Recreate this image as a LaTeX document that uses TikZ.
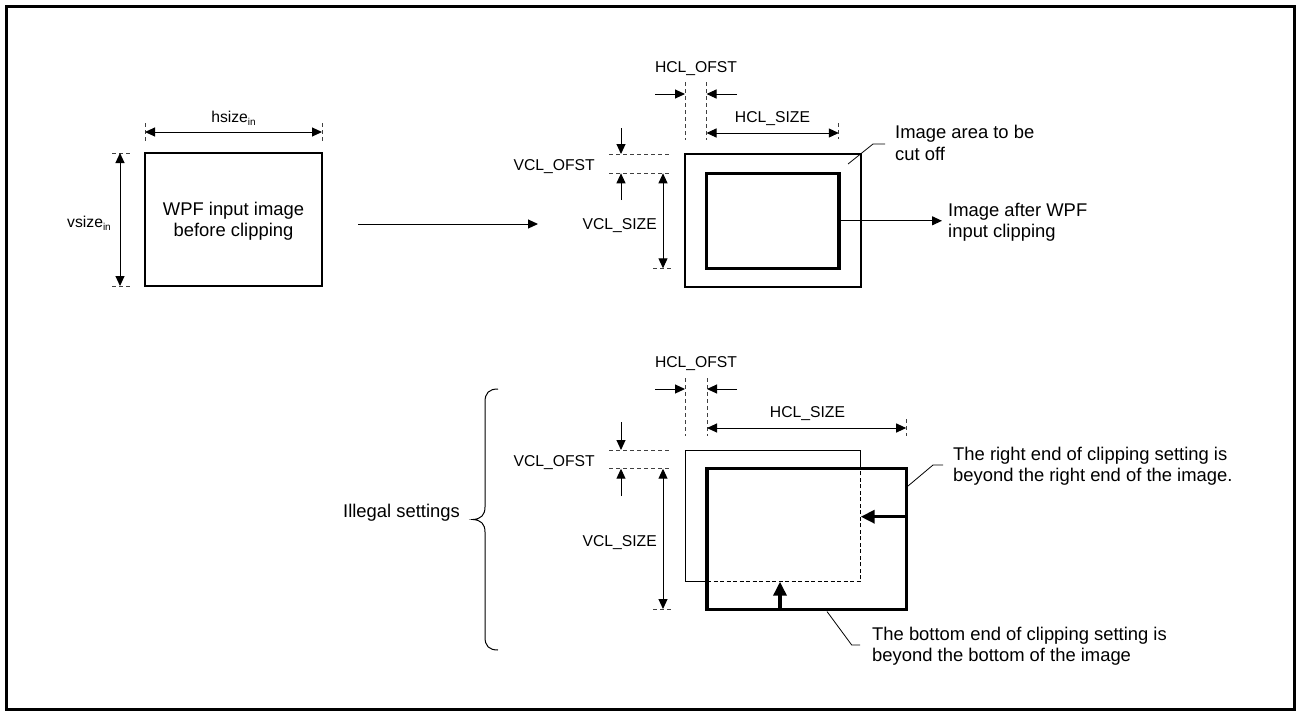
\documentclass[tikz,border=0pt]{standalone}
\usepackage{fontspec}
\setmainfont{Liberation Sans}
\usetikzlibrary{arrows.meta}
\newcommand{\lowsub}[1]{{\fontsize{10}{10}\selectfont\raisebox{-3pt}{#1}}}
\begin{document}
\begin{tikzpicture}[x=1pt,y=-1pt,
  thinln/.style={line width=1pt},
  frame/.style={draw, line width=1.1pt, inner sep=0pt, outer sep=0pt},
  heavy/.style={draw, line width=3.4pt, inner sep=0pt, outer sep=0pt},
  dimarrow/.style={line width=1pt, {Triangle[length=10pt,width=9pt]}-{Triangle[length=10pt,width=9pt]}},
  onearrow/.style={line width=1pt, -{Triangle[length=10pt,width=9pt]}},
  heavyarrow/.style={line width=3.4pt, -{Triangle[length=14pt,width=13pt]}},
  ext/.style={line width=0.9pt, dash pattern=on 4pt off 3pt, black!75},
  leader/.style={line width=0.8pt},
  lbl/.style={font=\fontsize{15.7}{18}\selectfont, inner sep=0pt},
  txt/.style={font=\fontsize{18.4}{21.7}\selectfont, inner sep=0pt, align=left},
]
\useasboundingbox (0,0) rectangle (1301,716);
\draw[line width=2.3pt] (6.5,6.5) rectangle (1294.5,709.5);

% ---------- input image ----------
\node[frame, minimum width=177pt, minimum height=133pt, anchor=north west] (inimg) at (145,153) {};
\node[txt, align=center, anchor=base] (intext) at (233.5,236.7) {WPF input image\\before clipping};
\draw[ext] (145,123) -- (145,141);
\draw[ext] (322,123) -- (322,141);
\draw[dimarrow] (145,132) -- (322,132);
\node[lbl, anchor=base] (hsz) at (233.5,122) {hsize\lowsub{in}};
\draw[ext] (112,153) -- (130,153);
\draw[ext] (112,286) -- (130,286);
\draw[dimarrow] (120,153) -- (120,286);
\node[lbl, anchor=base east] (vsz) at (111,227) {vsize\lowsub{in}};

\coordinate (mainfrom) at (358,224);
\coordinate (mainto) at (538,224);
\draw[onearrow] (mainfrom) -- (mainto);

% ---------- legal clipping ----------
\node[frame, minimum width=176pt, minimum height=133pt, anchor=north west] (cut) at (685,154) {};
\node[heavy, minimum width=132.3pt, minimum height=95pt] (clip) at (772.65,220.8) {};

\draw[ext] (685,82) -- (685,140);
\draw[ext] (706.5,82) -- (706.5,140);
\draw[onearrow] (655,94) -- (685,94);
\draw[onearrow] (737,94) -- (706.5,94);
\node[lbl, anchor=base] (hof1) at (696,72) {HCL\_OFST};
\draw[dimarrow] (706.5,133) -- (838.8,133);
\draw[ext] (838.8,123) -- (838.8,139);
\node[lbl, anchor=base] (hsi1) at (772.5,122) {HCL\_SIZE};

\draw[ext] (609,154) -- (670,154);
\draw[ext] (609,173.3) -- (670,173.3);
\draw[onearrow] (621,128) -- (621,154);
\draw[onearrow] (621,200) -- (621,173.3);
\node[lbl, anchor=base east] (vof1) at (595,170) {VCL\_OFST};
\draw[dimarrow] (663,173.3) -- (663,268.3);
\draw[ext] (653,268.3) -- (672,268.3);
\node[lbl, anchor=base east] (vsi1) at (657,229) {VCL\_SIZE};

\draw[leader] (848,164) -- (873,144) -- (885,144);
\node[txt, anchor=base west] (areatxt) at (895,160) {Image area to be\\cut off};
\coordinate (aftpt) at (942,220.8);
\draw[onearrow] (clip.east) -- (aftpt);
\node[txt, anchor=base west] (afttxt) at (948,237.7) {Image after WPF\\input clipping};

% ---------- illegal settings ----------
\draw[ext] (685,378) -- (685,436);
\draw[ext] (707,378) -- (707,436);
\draw[onearrow] (655,389) -- (685,389);
\draw[onearrow] (737,389) -- (707,389);
\node[lbl, anchor=base] (hof2) at (696,367) {HCL\_OFST};
\draw[dimarrow] (707,428) -- (906.2,428);
\draw[ext] (906.2,419) -- (906.2,436);
\node[lbl, anchor=base] (hsi2) at (807.5,417) {HCL\_SIZE};

\draw[ext] (609,450) -- (670,450);
\draw[ext] (609,468.7) -- (670,468.7);
\draw[onearrow] (621,422) -- (621,450);
\draw[onearrow] (621,496) -- (621,468.7);
\node[lbl, anchor=base east] (vof2) at (595,466) {VCL\_OFST};
\draw[dimarrow] (663,468.7) -- (663,609);
\draw[ext] (653,609) -- (672,609);
\node[lbl, anchor=base east] (vsi2) at (657,546) {VCL\_SIZE};

\draw[thinln] (860.7,468.7) -- (860.7,450) -- (685,450) -- (685,581.7) -- (707,581.7);
\draw[thinln, dash pattern=on 4pt off 2.5pt] (707,581.7) -- (860.7,581.7) -- (860.7,468.7);
\node[heavy, minimum width=199.2pt, minimum height=140.8pt] (over) at (806.6,539.1) {};

\draw[heavyarrow] (906.2,516.7) -- (860.7,516.7);
\draw[heavyarrow] (780,609.5) -- (780,581.7);

\draw[leader] (908,486) -- (933,465) -- (943,465);
\node[txt, anchor=base west] (righttxt) at (953,481.7) {The right end of clipping setting is\\beyond the right end of the image.};
\draw[leader] (827,611.5) -- (851.7,645) -- (860,645);
\node[txt, anchor=base west] (bottxt) at (872,661.7) {The bottom end of clipping setting is\\beyond the bottom of the image};

\draw[thinln] (498,389) .. controls (489,389) and (485,393) .. (485,402) -- (485,507)
  .. controls (485,515) and (481,519) .. (473,519.5)
  .. controls (481,520) and (485,524) .. (485,532) -- (485,637)
  .. controls (485,646) and (489,650) .. (498,650);
\node[txt, anchor=base east] (illegal) at (460,517) {Illegal settings};
\end{tikzpicture}
\end{document}
